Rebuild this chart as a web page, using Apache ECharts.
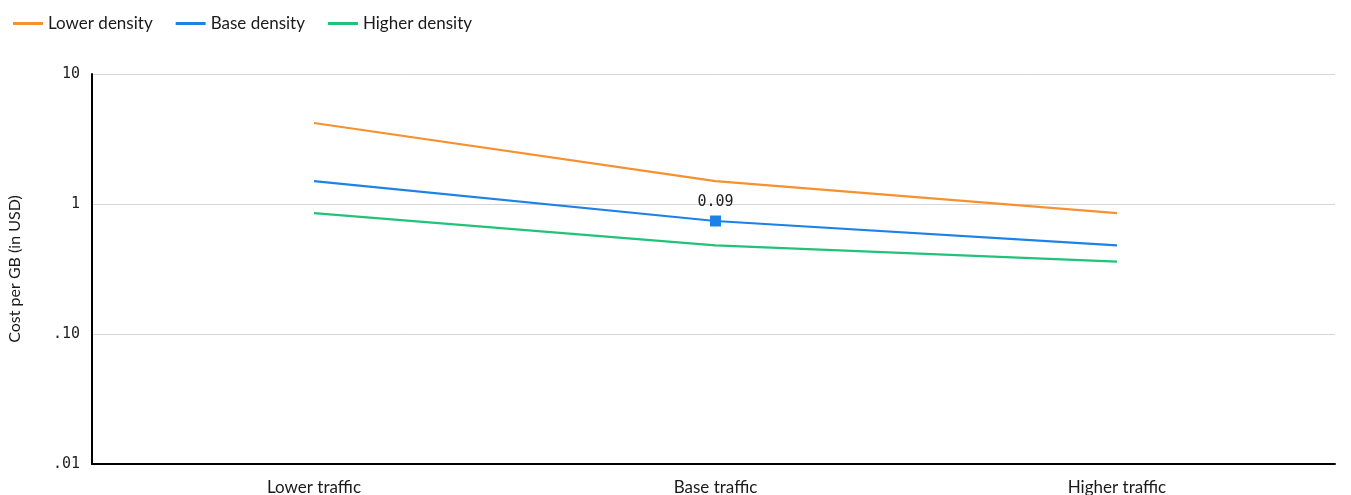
<!DOCTYPE html>
<html><head><meta charset="utf-8">
<script src="https://cdn.jsdelivr.net/npm/echarts@6/dist/echarts.min.js"></script>
<style>html,body{margin:0;padding:0;background:#fff}#c{width:1351px;height:495px}</style>
</head><body><div id="c"></div>
<script>
const categories = ['Lower traffic', 'Base traffic', 'Higher traffic'];
const seriesNames = ['Lower density', 'Base density', 'Higher density'];
const lowerDensity = [4.2, 1.5, 0.85];
const baseDensity = [1.5, 0.74, 0.48];
const higherDensity = [0.85, 0.48, 0.36];
const yTickLabels = { '10': '10', '1': '1', '0.1': '.10', '0.01': '.01' };
const pointLabel = { series: 1, index: 1, text: '0.09' };

const colors = ['#F7902F', '#1C82E8', '#22C27A'];
const sans = 'Lato';
const mono = 'DejaVu Sans Mono';

function toData(arr, si) {
  return arr.map((v, i) => {
    if (si === pointLabel.series && i === pointLabel.index) {
      return { value: [i, v], symbol: 'rect', symbolSize: 11,
        label: { show: true, position: 'top', distance: 6, formatter: pointLabel.text,
          fontFamily: mono, fontSize: 15, color: '#222' } };
    }
    return [i, v];
  });
}
const allSeries = [lowerDensity, baseDensity, higherDensity].map((arr, si) => ({
  name: seriesNames[si], type: 'line', data: toData(arr, si), symbol: 'none',
  lineStyle: { width: 2.2, color: colors[si] }, itemStyle: { color: colors[si] },
  emphasis: { disabled: true }, z: 3
}));

const chart = echarts.init(document.getElementById('c'));
chart.setOption({
  animation: false,
  textStyle: { fontFamily: sans },
  legend: {
    left: 8, top: 10, itemGap: 23, itemWidth: 30, itemHeight: 3, icon: 'rect',
    textStyle: { fontFamily: sans, fontSize: 17, color: '#1a1a1a' },
    data: seriesNames
  },
  grid: { left: 92, right: 16, top: 74, bottom: 31, containLabel: false, outerBoundsMode: 'none' },
  xAxis: {
    type: 'value', min: -0.553, max: 2.543,
    axisLine: { show: true, onZero: false, lineStyle: { color: '#000', width: 2 } },
    axisTick: { show: false }, splitLine: { show: false },
    axisLabel: { customValues: [0, 1, 2], formatter: v => categories[Math.round(v)] || '',
      fontFamily: sans, fontSize: 17, color: '#1a1a1a', margin: 15 }
  },
  yAxis: {
    type: 'log', logBase: 10, min: 0.01, max: 10,
    name: 'Cost per GB (in USD)', nameLocation: 'middle', nameGap: 69, nameRotate: 90,
    nameTextStyle: { fontFamily: sans, fontSize: 16, color: '#1a1a1a' },
    axisLine: { show: true, onZero: false, lineStyle: { color: '#000', width: 2 } },
    axisTick: { show: false },
    splitLine: { show: true, lineStyle: { color: '#d6d6d6', width: 1 } },
    axisLabel: { formatter: v => yTickLabels[String(+v.toPrecision(3))] || '',
      fontFamily: mono, fontSize: 15, color: '#222', margin: 12 }
  },
  series: allSeries
});
</script></body></html>
